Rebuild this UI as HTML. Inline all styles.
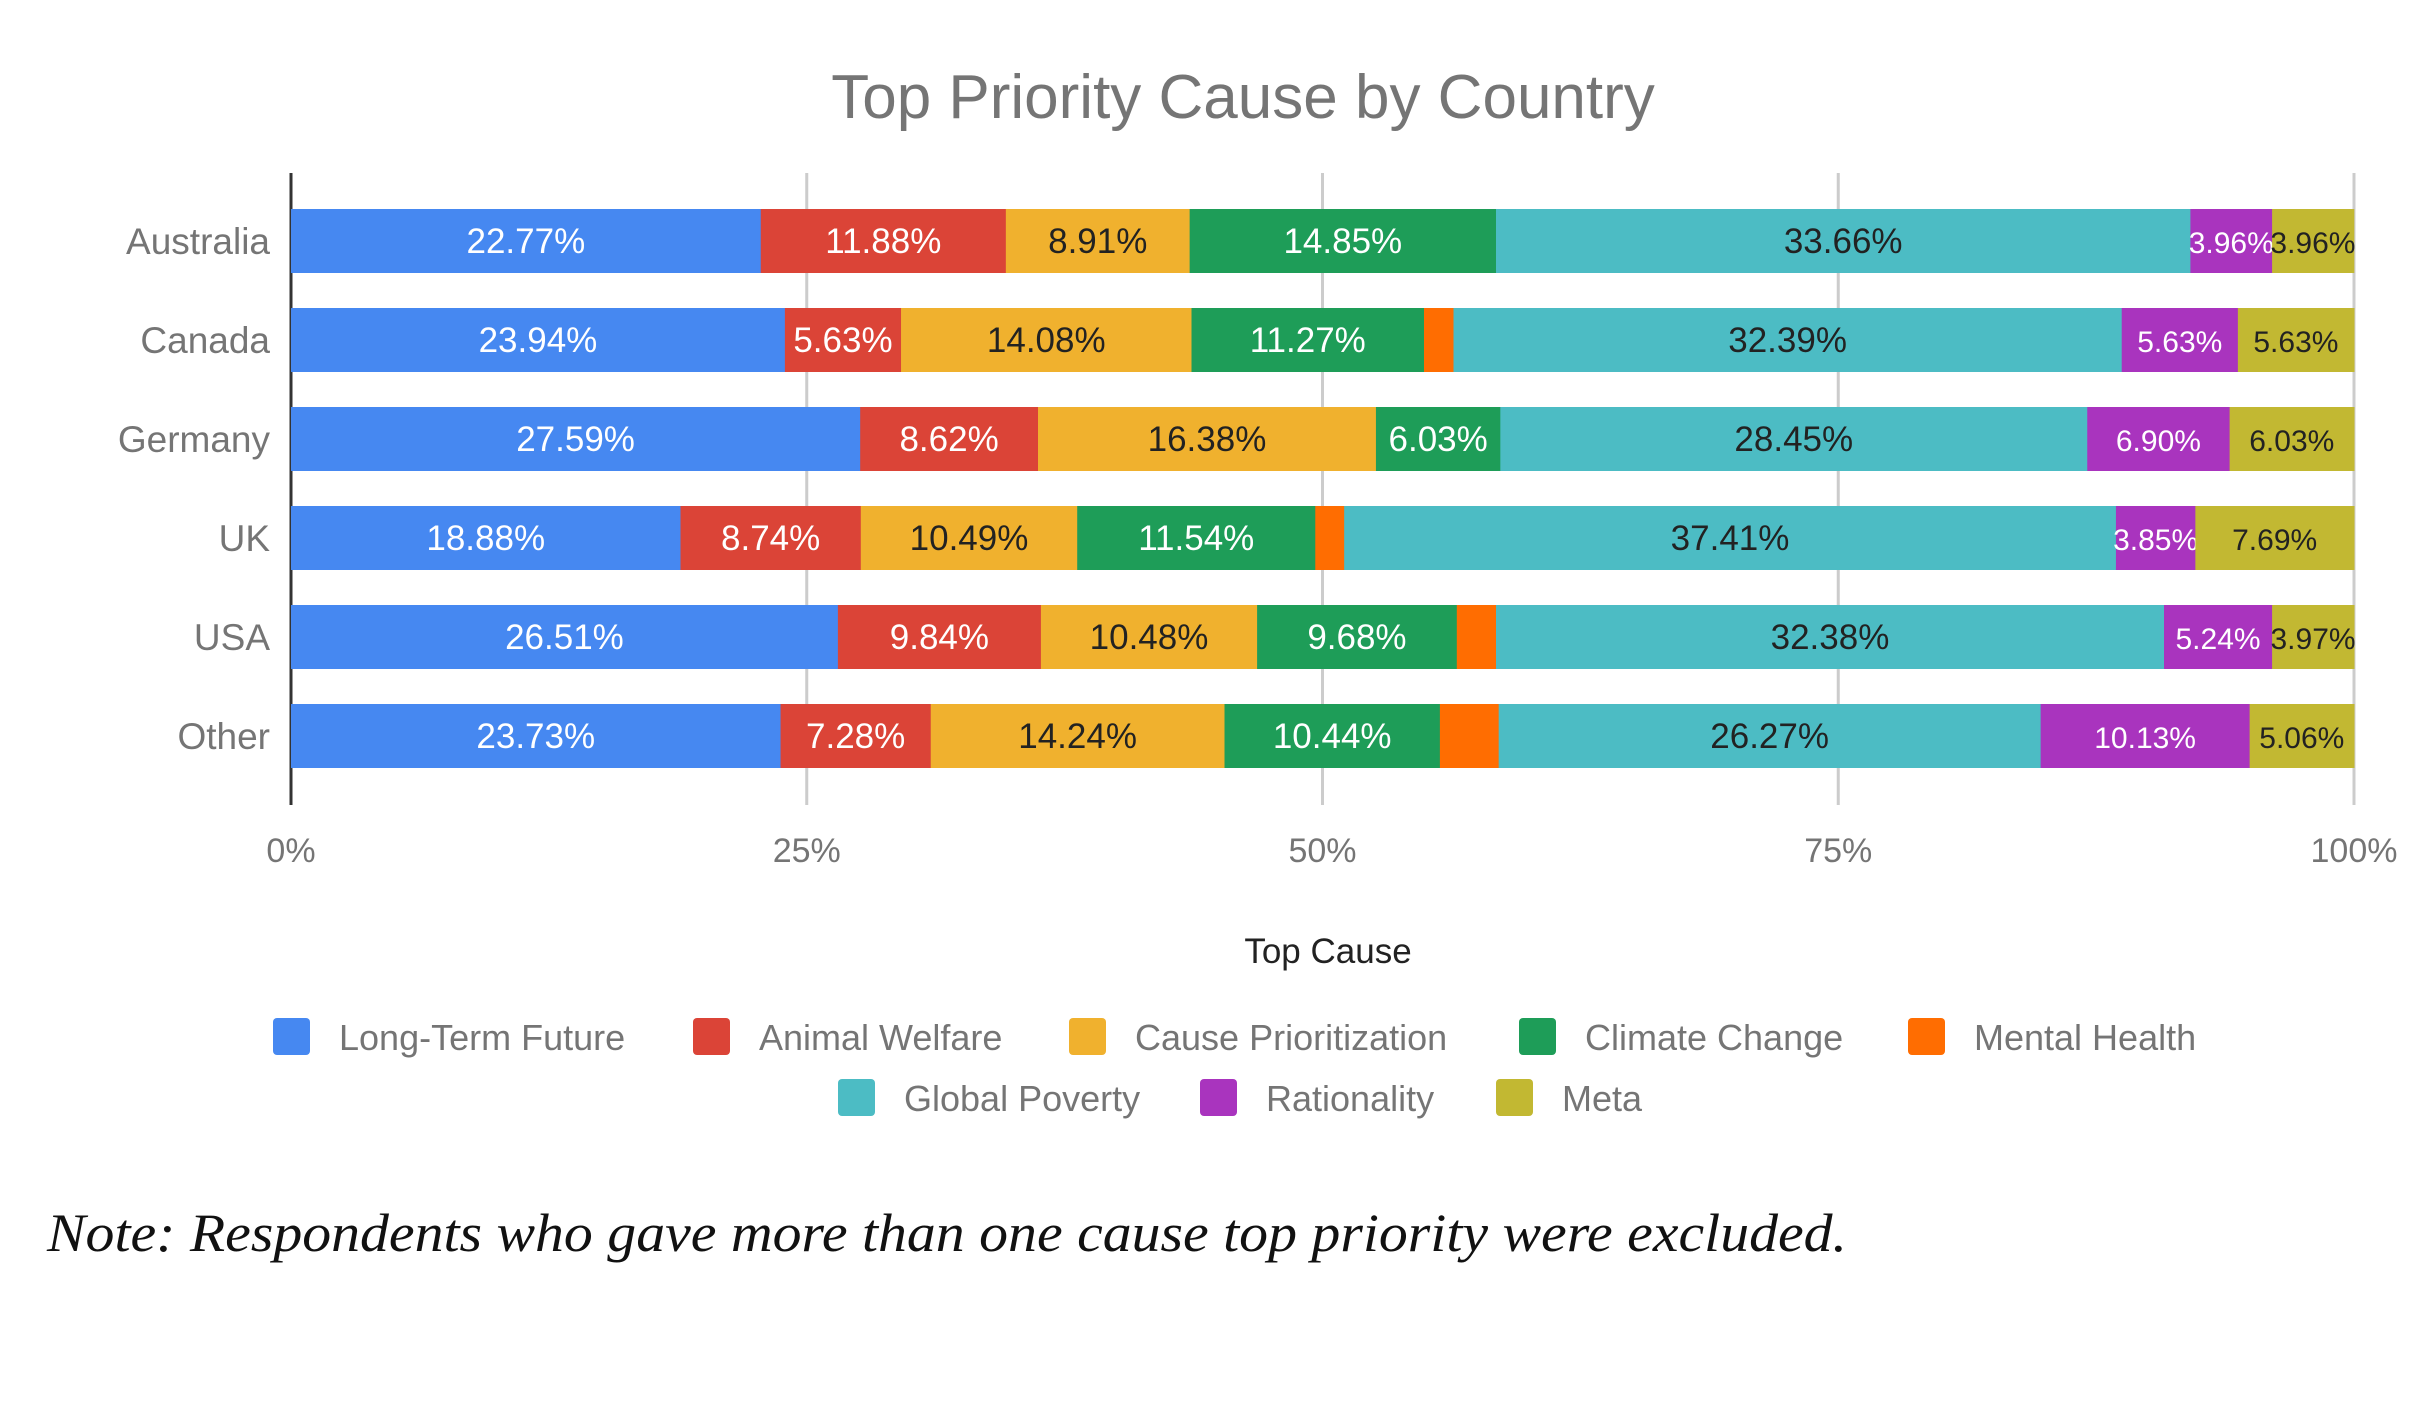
<!DOCTYPE html>
<html><head><meta charset="utf-8"><style>
html,body{margin:0;padding:0;background:#fff;}
svg{display:block;font-family:"Liberation Sans",sans-serif;}
</style></head><body>
<svg id="chart" width="2436" height="1408" viewBox="0 0 2436 1408" xmlns="http://www.w3.org/2000/svg">
<text x="1243" y="118" text-anchor="middle" font-size="62" fill="#757575">Top Priority Cause by Country</text>
<g id="grid"></g>
<g id="bars"></g>
<g id="ylabels"></g>
<g id="xticks"></g>
<text x="1328" y="963" text-anchor="middle" font-size="35" fill="#222">Top Cause</text>
<g id="legend"></g>
<text x="47" y="1251" font-family="Liberation Serif, serif" font-style="italic" font-size="54" fill="#111" textLength="1800" lengthAdjust="spacingAndGlyphs">Note: Respondents who gave more than one cause top priority were excluded.</text>
</svg>
<script>
const countries=["Australia","Canada","Germany","UK","USA","Other"];
const seriesNames=["Long-Term Future","Animal Welfare","Cause Prioritization","Climate Change","Mental Health","Global Poverty","Rationality","Meta"];
const longTermFuture=[22.77,23.94,27.59,18.88,26.51,23.73];
const animalWelfare=[11.88,5.63,8.62,8.74,9.84,7.28];
const causePrioritization=[8.91,14.08,16.38,10.49,10.48,14.24];
const climateChange=[14.85,11.27,6.03,11.54,9.68,10.44];
const mentalHealth=[0,1.43,0,1.4,1.9,2.85];
const globalPoverty=[33.66,32.39,28.45,37.41,32.38,26.27];
const rationality=[3.96,5.63,6.90,3.85,5.24,10.13];
const meta=[3.96,5.63,6.03,7.69,3.97,5.06];
const tickValues=[0,25,50,75,100];
const tickLabels=["0%","25%","50%","75%","100%"];

const series=[longTermFuture,animalWelfare,causePrioritization,climateChange,mentalHealth,globalPoverty,rationality,meta];
const colors=["#4688F1","#DB4437","#F0B12E","#1E9D58","#FF6D01","#4CBCC4","#A934BE","#C2B832"];
const textColors=["#fff","#fff","#222","#fff","#fff","#222","#fff","#222"];
const NS="http://www.w3.org/2000/svg";
const X0=291,X1=2354,Y0=241,PITCH=99,BH=64;
const xs=v=>X0+(X1-X0)*v/100;
const yc=i=>Y0+i*PITCH;
function mk(tag,attrs,parent,txt){const e=document.createElementNS(NS,tag);for(const k in attrs)e.setAttribute(k,attrs[k]);if(txt!==undefined)e.textContent=txt;parent.appendChild(e);return e;}
const grid=document.getElementById('grid'),bars=document.getElementById('bars'),yl=document.getElementById('ylabels'),xt=document.getElementById('xticks'),lg=document.getElementById('legend');
tickValues.forEach((t,i)=>{
  const ln=mk('line',{x1:xs(t),x2:xs(t),y1:173,y2:805,stroke:t===0?'#333':'#ccc','stroke-width':3},grid);
  
  
  const tx=mk('text',{x:xs(t),y:862,'text-anchor':'middle','font-size':34,fill:'#757575'},xt,tickLabels[i]);
  
  
});
countries.forEach((c,i)=>{
  const t=mk('text',{x:270,y:yc(i)+13,'text-anchor':'end','font-size':37,fill:'#757575'},yl,c);
  
  
  let acc=0;
  series.forEach((s,j)=>{
    const v=s[i];if(v<=0)return;
    const x=xs(acc),w=xs(acc+v)-xs(acc);
    const r=mk('rect',{x:x,y:yc(i)-BH/2,width:w+0.5,height:BH,fill:colors[j]},bars);
    
    
    if(v>=3){
      const small=(j>=6);
      const lt=mk('text',{x:x+w/2,y:yc(i)+12,'text-anchor':'middle','font-size':small?30:35,fill:textColors[j]},bars,v.toFixed(2)+'%');
      
      
    }
    acc+=v;
  });
});
const legendPos=[[273,1037],[693,1037],[1069,1037],[1519,1037],[1908,1037],[838,1098],[1200,1098],[1496,1098]];
seriesNames.forEach((n,j)=>{
  const [x,y]=legendPos[j];
  const sq=mk('rect',{x:x,y:y-19,width:37,height:37,rx:4,fill:colors[j]},lg);
  
  
  const t=mk('text',{x:x+66,y:y+13,'font-size':36,fill:'#757575'},lg,n);
  
  
});
</script>
</body></html>
